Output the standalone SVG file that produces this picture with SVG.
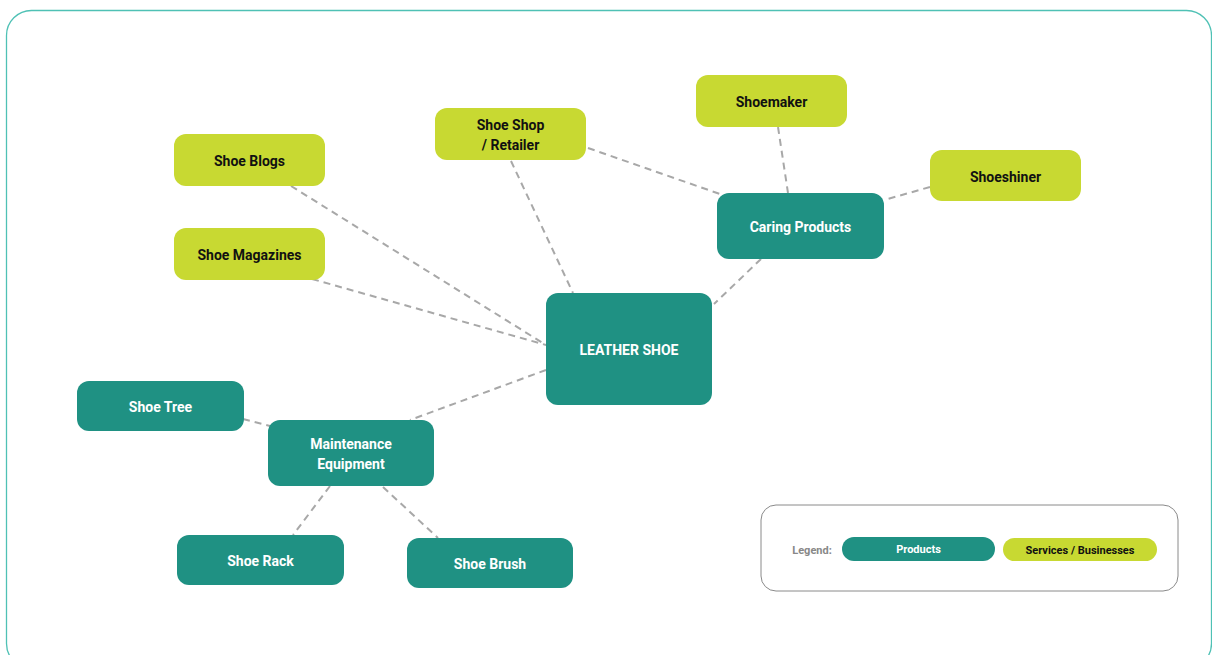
<svg xmlns="http://www.w3.org/2000/svg" width="1212" height="655" viewBox="0 0 1212 655">
<style>
.prod{fill:#1f9183}
.serv{fill:#c8d932}
.t{font-family:Roboto,"Liberation Sans",sans-serif;font-weight:bold;font-size:14px;text-anchor:middle;dominant-baseline:central}
.tw{fill:#ffffff}
.tb{fill:#111111}
.conn line{stroke:#a8a8a8;stroke-width:2;stroke-dasharray:7 5;fill:none}
</style>
<rect x="6.5" y="10.5" width="1205" height="658" rx="25" fill="#ffffff" stroke="#4fc1b5" stroke-width="1.3"/>
<g id="connectors" class="conn">
<line x1="291" y1="186" x2="546" y2="345"/>
<line x1="312" y1="279" x2="546" y2="345"/>
<line x1="511" y1="161" x2="573" y2="293"/>
<line x1="588" y1="148" x2="720" y2="194"/>
<line x1="778" y1="127" x2="788" y2="193"/>
<line x1="930" y1="187" x2="884" y2="200"/>
<line x1="761" y1="259" x2="714" y2="304"/>
<line x1="546" y1="370" x2="410" y2="420"/>
<line x1="243" y1="419" x2="270" y2="426"/>
<line x1="330" y1="486" x2="293" y2="535"/>
<line x1="383" y1="487" x2="438" y2="538"/>
</g>
<g id="shoe-blogs"><rect class="serv" x="174" y="134" width="151" height="52" rx="12"/><text class="t tb" x="249.5" y="161">Shoe Blogs</text></g>
<g id="shoe-magazines"><rect class="serv" x="174" y="228" width="151" height="52" rx="12"/><text class="t tb" x="249.5" y="255">Shoe Magazines</text></g>
<g id="shoe-shop"><rect class="serv" x="435" y="108" width="151" height="52" rx="12"/><text class="t tb" x="510.5" y="125">Shoe Shop</text><text class="t tb" x="510.5" y="145">/ Retailer</text></g>
<g id="shoemaker"><rect class="serv" x="696" y="75" width="151" height="52" rx="12"/><text class="t tb" x="771.5" y="102">Shoemaker</text></g>
<g id="shoeshiner"><rect class="serv" x="930" y="150" width="151" height="51" rx="12"/><text class="t tb" x="1005.5" y="177">Shoeshiner</text></g>
<g id="caring-products"><rect class="prod" x="717" y="193" width="167" height="66" rx="12"/><text class="t tw" x="800.5" y="227">Caring Products</text></g>
<g id="leather-shoe"><rect class="prod" x="546" y="293" width="166" height="112" rx="12"/><text class="t tw" x="629" y="350">LEATHER SHOE</text></g>
<g id="shoe-tree"><rect class="prod" x="77" y="381" width="167" height="50" rx="12"/><text class="t tw" x="160.5" y="407">Shoe Tree</text></g>
<g id="maintenance-equipment"><rect class="prod" x="268" y="420" width="166" height="66" rx="12"/><text class="t tw" x="351" y="444">Maintenance</text><text class="t tw" x="351" y="464">Equipment</text></g>
<g id="shoe-rack"><rect class="prod" x="177" y="535" width="167" height="50" rx="12"/><text class="t tw" x="260.5" y="561">Shoe Rack</text></g>
<g id="shoe-brush"><rect class="prod" x="407" y="538" width="166" height="50" rx="12"/><text class="t tw" x="490" y="564">Shoe Brush</text></g>
<g id="legend">
<rect x="761" y="505" width="417" height="86" rx="15" fill="#ffffff" stroke="#8a8a8a" stroke-width="1"/>
<text x="812" y="550" style="font-family:Roboto,'Liberation Sans',sans-serif;font-weight:bold;font-size:11px;text-anchor:middle;dominant-baseline:central;fill:#888888">Legend:</text>
<rect class="prod" x="842" y="537" width="153" height="24" rx="12"/>
<text x="918.5" y="549.5" style="font-family:Roboto,'Liberation Sans',sans-serif;font-weight:bold;font-size:11px;text-anchor:middle;dominant-baseline:central;fill:#ffffff">Products</text>
<rect class="serv" x="1003" y="538" width="154" height="23" rx="11.5"/>
<text x="1080" y="550.5" style="font-family:Roboto,'Liberation Sans',sans-serif;font-weight:bold;font-size:11px;text-anchor:middle;dominant-baseline:central;fill:#111111">Services / Businesses</text>
</g>
</svg>
